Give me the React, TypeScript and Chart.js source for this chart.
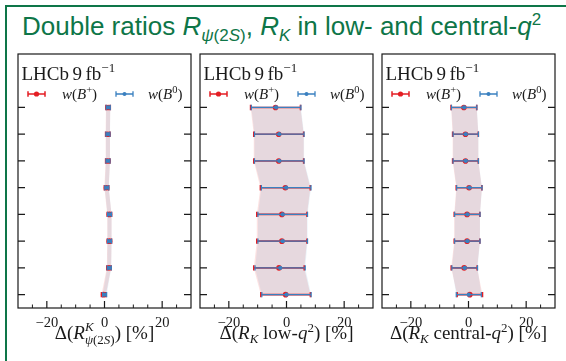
import React, { useEffect, useRef } from "react";
import { Chart, registerables } from "chart.js";
Chart.register(...registerables);

// ---------------- data ----------------
const ROWS = [0, 1, 2, 3, 4, 5, 6, 7];
const X_TICKS = [-20, 0, 20];
const X_MINOR = [-25, -15, -10, -5, 5, 10, 15, 25];

// Δ(R^K_ψ(2S)) [%]
const psiRed = [1.25, 1.15, 1.15, 0.7, 1.7, 1.7, 1.55, -0.3];
const psiBlue = [1.3, 1.2, 1.2, 0.8, 1.75, 1.75, 1.65, 0.05];
const psiRedErr = [0.75, 0.75, 0.75, 0.75, 0.75, 0.75, 0.75, 0.75];
const psiBlueErr = [0.7, 0.7, 0.7, 0.7, 0.7, 0.7, 0.7, 0.7];

// Δ(R_K low-q²) [%]
const lowRed = [-3.8, -2.7, -2.7, -0.4, -1.6, -1.6, -2.6, -0.3];
const lowBlue = [-3.6, -2.5, -2.5, -0.1, -1.3, -1.3, -2.2, 0.0];
const lowRedErr = [8.65, 8.65, 8.65, 8.65, 8.7, 8.7, 8.75, 8.6];
const lowBlueErr = [8.6, 8.6, 8.6, 8.6, 8.6, 8.6, 8.7, 8.55];

// Δ(R_K central-q²) [%]
const cenRed = [-1.6, -1.05, -1.05, 0.2, -0.5, -0.5, -1.5, 0.45];
const cenBlue = [-1.5, -0.95, -0.95, 0.3, -0.4, -0.4, -1.3, 0.1];
const cenRedErr = [4.45, 4.45, 4.45, 4.45, 4.45, 4.45, 4.5, 4.4];
const cenBlueErr = [4.4, 4.4, 4.4, 4.4, 4.4, 4.4, 4.45, 4.35];

// ---------------- styles ----------------
const RED = "rgb(228,30,36)";
const BLUE = "rgb(58,128,192)";
const RED_FILL = "rgba(228,26,28,0.12)";
const BLUE_FILL = "rgba(55,126,184,0.11)";
const AXIS = "#1a1a1a";
const GREEN = "rgb(14,118,72)";
const SERIF = '"Liberation Serif", "Times New Roman", serif';

type Run = {
  t?: string;
  it?: boolean;
  sz?: number;
  dy?: number;
  gap?: number;
  sup?: Run[];
  sub?: Run[];
};

function setFont(ctx: CanvasRenderingContext2D, r: Run) {
  ctx.font = `${r.it ? "italic " : ""}${r.sz ?? 18}px ${SERIF}`;
}
function measureRuns(ctx: CanvasRenderingContext2D, runs: Run[]): number {
  let w = 0;
  for (const r of runs) {
    if (r.gap) w += r.gap;
    if (r.sup || r.sub) {
      w += Math.max(measureRuns(ctx, r.sup || []), measureRuns(ctx, r.sub || []));
    } else if (r.t) {
      setFont(ctx, r);
      w += ctx.measureText(r.t).width;
    }
  }
  return w;
}
function drawRuns(ctx: CanvasRenderingContext2D, runs: Run[], x: number, y: number): number {
  for (const r of runs) {
    if (r.gap) x += r.gap;
    if (r.sup || r.sub) {
      const e1 = r.sup ? drawRuns(ctx, r.sup, x, y) : x;
      const e2 = r.sub ? drawRuns(ctx, r.sub, x, y) : x;
      x = Math.max(e1, e2);
    } else if (r.t) {
      setFont(ctx, r);
      ctx.fillText(r.t, x, y + (r.dy ?? 0));
      x += ctx.measureText(r.t).width;
    }
  }
  return x;
}

const TSZ = 19;
const SUBSZ = 13;
const psiTitle: Run[] = [
  { t: "Δ(", sz: TSZ },
  { t: "R", it: true, sz: TSZ },
  {
    sup: [{ t: "K", it: true, sz: SUBSZ, dy: -8 }],
    sub: [
      { t: "ψ", it: true, sz: SUBSZ, dy: 5 },
      { t: "(2", sz: SUBSZ, dy: 5 },
      { t: "S", it: true, sz: SUBSZ, dy: 5 },
      { t: ")", sz: SUBSZ, dy: 5 },
    ],
  },
  { t: ") [%]", sz: TSZ },
];
const lowTitle: Run[] = [
  { t: "Δ(", sz: TSZ },
  { t: "R", it: true, sz: TSZ },
  { sub: [{ t: "K", it: true, sz: SUBSZ, dy: 4 }] },
  { t: " low-", sz: TSZ },
  { t: "q", it: true, sz: TSZ },
  { sup: [{ t: "2", sz: SUBSZ, dy: -7.5 }] },
  { t: ") [%]", sz: TSZ },
];
const cenTitle: Run[] = [
  { t: "Δ(", sz: TSZ },
  { t: "R", it: true, sz: TSZ },
  { sub: [{ t: "K", it: true, sz: SUBSZ, dy: 4 }] },
  { t: " central-", sz: TSZ },
  { t: "q", it: true, sz: TSZ },
  { sup: [{ t: "2", sz: SUBSZ, dy: -7.5 }] },
  { t: ") [%]", sz: TSZ },
];
const lhcbText: Run[] = [
  { t: "LHCb", sz: 19 },
  { gap: 3.5, t: "9", sz: 19 },
  { gap: 3.5, t: "fb", sz: 19 },
  { t: "−1", sz: 13, dy: -8 },
];
const legPlus: Run[] = [
  { t: "w", it: true, sz: 15 },
  { t: "(", sz: 15 },
  { t: "B", it: true, sz: 15 },
  { t: "+", sz: 10.5, dy: -6 },
  { t: ")", sz: 15 },
];
const legZero: Run[] = [
  { t: "w", it: true, sz: 15 },
  { t: "(", sz: 15 },
  { t: "B", it: true, sz: 15 },
  { t: "0", sz: 10.5, dy: -6 },
  { t: ")", sz: 15 },
];

type PanelCfg = {
  left: number;
  red: number[];
  blue: number[];
  redErr: number[];
  blueErr: number[];
  title: Run[];
};

const PANELS: PanelCfg[] = [
  { left: 18, red: psiRed, blue: psiBlue, redErr: psiRedErr, blueErr: psiBlueErr, title: psiTitle },
  { left: 200, red: lowRed, blue: lowBlue, redErr: lowRedErr, blueErr: lowBlueErr, title: lowTitle },
  { left: 382, red: cenRed, blue: cenBlue, redErr: cenRedErr, blueErr: cenBlueErr, title: cenTitle },
];

const PANEL_W = 173;
const PAD_X = 6;
const CANVAS_TOP = 50;
const PAD_TOP = 4;
const CANVAS_H = 361 - CANVAS_TOP;
const AXIS_H = 53;

function fmtTick(v: number): string {
  return v < 0 ? "−" + Math.abs(v) : String(v);
}

function drawBand(chart: any, c: number[], e: number[], fill: string) {
  const ctx = chart.ctx as CanvasRenderingContext2D;
  const xs = chart.scales.x;
  const ys = chart.scales.y;
  ctx.save();
  ctx.beginPath();
  ROWS.forEach((r, i) => {
    const px = xs.getPixelForValue(c[i] - e[i]);
    const py = ys.getPixelForValue(r);
    if (i === 0) ctx.moveTo(px, py);
    else ctx.lineTo(px, py);
  });
  for (let i = ROWS.length - 1; i >= 0; i--) {
    ctx.lineTo(xs.getPixelForValue(c[i] + e[i]), ys.getPixelForValue(ROWS[i]));
  }
  ctx.closePath();
  ctx.fillStyle = fill;
  ctx.fill();
  ctx.restore();
}

function drawErrBars(chart: any, c: number[], e: number[], color: string, lw: number, cap: number) {
  const ctx = chart.ctx as CanvasRenderingContext2D;
  const xs = chart.scales.x;
  const ys = chart.scales.y;
  ctx.save();
  ctx.strokeStyle = color;
  ctx.lineWidth = lw;
  ROWS.forEach((r, i) => {
    const x1 = xs.getPixelForValue(c[i] - e[i]);
    const x2 = xs.getPixelForValue(c[i] + e[i]);
    const y = ys.getPixelForValue(r);
    ctx.beginPath();
    ctx.moveTo(x1, y);
    ctx.lineTo(x2, y);
    ctx.moveTo(x1, y - cap);
    ctx.lineTo(x1, y + cap);
    ctx.moveTo(x2, y - cap);
    ctx.lineTo(x2, y + cap);
    ctx.stroke();
  });
  ctx.restore();
}

function legendGlyph(ctx: CanvasRenderingContext2D, x1: number, x2: number, y: number, color: string, lw: number, r: number) {
  ctx.save();
  ctx.strokeStyle = color;
  ctx.fillStyle = color;
  ctx.lineWidth = lw;
  ctx.beginPath();
  ctx.moveTo(x1, y);
  ctx.lineTo(x2, y);
  ctx.moveTo(x1, y - 2.7);
  ctx.lineTo(x1, y + 2.7);
  ctx.moveTo(x2, y - 2.7);
  ctx.lineTo(x2, y + 2.7);
  ctx.stroke();
  ctx.beginPath();
  ctx.arc((x1 + x2) / 2, y, r, 0, Math.PI * 2);
  ctx.fill();
  ctx.restore();
}

function makePlugin(p: PanelCfg) {
  return {
    id: "panelDeco",
    beforeDatasetDraw(chart: any, args: any) {
      const label = args.meta.label;
      if (label === "red") {
        drawBand(chart, p.red, p.redErr, RED_FILL);
        drawBand(chart, p.blue, p.blueErr, BLUE_FILL);
        drawErrBars(chart, p.red, p.redErr, RED, 1.6, 2.7);
      } else if (label === "blue") {
        drawErrBars(chart, p.blue, p.blueErr, BLUE, 1.2, 2.7);
      }
    },
    afterDraw(chart: any) {
      const ctx = chart.ctx as CanvasRenderingContext2D;
      const a = chart.chartArea;
      const xs = chart.scales.x;
      const ys = chart.scales.y;
      ctx.save();
      // frame
      ctx.strokeStyle = AXIS;
      ctx.lineWidth = 1.2;
      ctx.strokeRect(a.left, a.top, a.right - a.left, a.bottom - a.top);
      // y ticks (inward, both sides)
      ctx.beginPath();
      ROWS.forEach((r) => {
        const y = ys.getPixelForValue(r);
        ctx.moveTo(a.left, y);
        ctx.lineTo(a.left + 7, y);
        ctx.moveTo(a.right, y);
        ctx.lineTo(a.right - 7, y);
      });
      // x ticks (inward, bottom)
      X_TICKS.forEach((v) => {
        const x = xs.getPixelForValue(v);
        ctx.moveTo(x, a.bottom);
        ctx.lineTo(x, a.bottom - 7);
      });
      ctx.stroke();
      ctx.lineWidth = 1;
      ctx.beginPath();
      X_MINOR.forEach((v) => {
        const x = xs.getPixelForValue(v);
        ctx.moveTo(x, a.bottom);
        ctx.lineTo(x, a.bottom - 3.5);
      });
      ctx.stroke();

      // texts
      ctx.fillStyle = AXIS;
      ctx.textBaseline = "alphabetic";
      ctx.textAlign = "left";
      drawRuns(ctx, lhcbText, a.left + 3.5, a.top + 26);
      const ly = a.top + 40;
      legendGlyph(ctx, a.left + 10, a.left + 27, ly, RED, 1.5, 2.6);
      drawRuns(ctx, legPlus, a.left + 44, ly + 5);
      legendGlyph(ctx, a.left + 98, a.left + 115, ly, BLUE, 1.3, 2.0);
      ctx.fillStyle = AXIS;
      drawRuns(ctx, legZero, a.left + 130, ly + 5);

      // axis title
      const w = measureRuns(ctx, p.title);
      const cx = xs.getPixelForValue(0);
      drawRuns(ctx, p.title, cx - w / 2, 339 - CANVAS_TOP);
      ctx.restore();
    },
  };
}

function Panel({ p }: { p: PanelCfg }) {
  const ref = useRef<HTMLCanvasElement | null>(null);
  useEffect(() => {
    if (!ref.current) return;
    const chart = new Chart(ref.current, {
      type: "scatter",
      data: {
        datasets: [
          {
            label: "red",
            data: ROWS.map((r, i) => ({ x: p.red[i], y: r })),
            backgroundColor: RED,
            borderWidth: 0,
            pointRadius: 2.8,
            order: 2,
          },
          {
            label: "blue",
            data: ROWS.map((r, i) => ({ x: p.blue[i], y: r })),
            backgroundColor: BLUE,
            borderWidth: 0,
            pointRadius: 2.1,
            order: 1,
          },
        ],
      },
      options: {
        animation: false,
        responsive: false,
        maintainAspectRatio: false,
        layout: { padding: { left: PAD_X, right: PAD_X, top: PAD_TOP, bottom: 0 } },
        plugins: { legend: { display: false }, tooltip: { enabled: false } },
        scales: {
          x: {
            type: "linear",
            min: -30,
            max: 30,
            grid: { display: false, drawTicks: false },
            border: { display: false },
            afterBuildTicks: (s: any) => {
              s.ticks = X_TICKS.map((v) => ({ value: v }));
            },
            afterFit: (s: any) => {
              s.height = AXIS_H;
            },
            ticks: {
              color: AXIS,
              font: { family: SERIF, size: 14.5 },
              padding: 6,
              maxRotation: 0,
              autoSkip: false,
              callback: (v: any) => fmtTick(Number(v)),
            },
          },
          y: { type: "linear", min: -2, max: 7.5, reverse: true, display: false },
        },
      },
      plugins: [makePlugin(p)],
    } as any);
    return () => chart.destroy();
  }, [p]);
  return (
    <canvas
      ref={ref}
      width={PANEL_W + 2 * PAD_X}
      height={CANVAS_H}
      style={{ position: "absolute", left: p.left - PAD_X, top: CANVAS_TOP, width: PANEL_W + 2 * PAD_X, height: CANVAS_H }}
    />
  );
}

export default function App() {
  const sub: React.CSSProperties = { fontSize: 17, position: "relative", top: 6 };
  const sup: React.CSSProperties = { fontSize: 17, position: "relative", top: -10 };
  return (
    <div style={{ position: "absolute", left: 0, top: 0, width: 566, height: 361, background: "#fff", overflow: "hidden" }}>
      <div style={{ position: "absolute", left: 5, top: 5, width: 561, height: 2, background: GREEN }} />
      <div style={{ position: "absolute", left: 5, top: 5, width: 2, height: 356, background: GREEN }} />
      <div
        style={{
          position: "absolute",
          left: 22,
          top: 12,
          whiteSpace: "nowrap",
          font: '26px "Liberation Sans", Arial, sans-serif',
          lineHeight: "28px",
          color: GREEN,
        }}
      >
        Double ratios <i>R</i>
        <span style={sub}>
          <i>ψ</i>(2<i>S</i>)
        </span>
        , <i>R</i>
        <span style={sub}>
          <i>K</i>
        </span>{" "}
        in low- and central-<i>q</i>
        <span style={sup}>2</span>
      </div>
      {PANELS.map((p, i) => (
        <Panel key={i} p={p} />
      ))}
    </div>
  );
}
